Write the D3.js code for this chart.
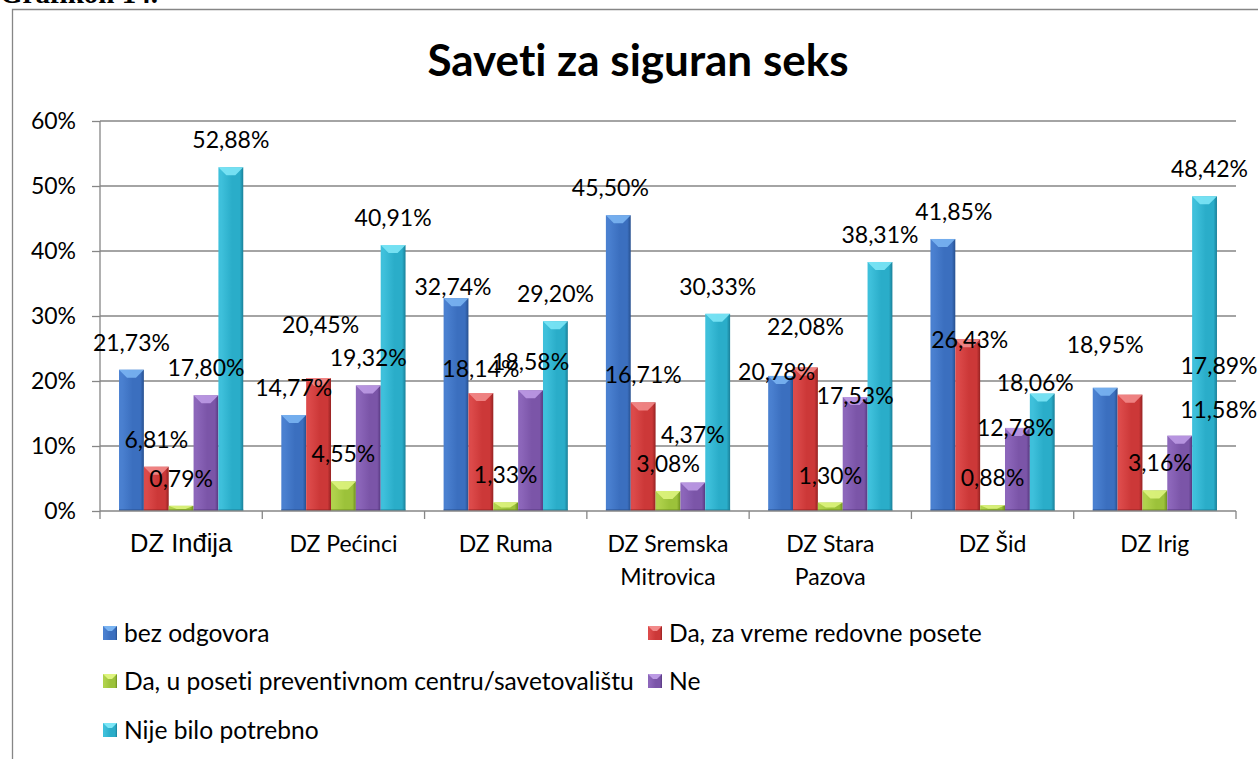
<!DOCTYPE html>
<html>
<head>
<meta charset="utf-8">
<script src="https://cdn.jsdelivr.net/npm/d3@7"></script>
<style>
  html, body { margin: 0; padding: 0; background: #fff; }
  svg { display: block; }
  text { font-variant-ligatures: none; font-feature-settings: "liga" 0; }
</style>
</head>
<body>
<svg id="chart" width="1258" height="759"></svg>
<script>
// ---------------- DATA ----------------
const title = "Saveti za siguran seks";
const pageHeading = "Grafikon 14.";
const categories = ["DZ Inđija", "DZ Pećinci", "DZ Ruma", "DZ Sremska\nMitrovica", "DZ Stara\nPazova", "DZ Šid", "DZ Irig"];
const seriesNames = ["bez odgovora", "Da, za vreme redovne posete", "Da, u poseti preventivnom centru/savetovalištu", "Ne", "Nije bilo potrebno"];
const bezOdgovora   = [21.73, 14.77, 32.74, 45.50, 20.78, 41.85, 18.95];
const daRedovne     = [6.81, 20.45, 18.14, 16.71, 22.08, 26.43, 17.89];
const daPreventivni = [0.79, 4.55, 1.33, 3.08, 1.30, 0.88, 3.16];
const ne            = [17.80, 19.32, 18.58, 4.37, 17.53, 12.78, 11.58];
const nijePotrebno  = [52.88, 40.91, 29.20, 30.33, 38.31, 18.06, 48.42];
const yTicks = [0, 10, 20, 30, 40, 50, 60];

const seriesValues = [bezOdgovora, daRedovne, daPreventivni, ne, nijePotrebno];

// ---------------- LAYOUT / STYLE ----------------
// colours: [left, body, right-edge, top bevel]
const palette = [
  ["#4a80d0", "#3b6fbf", "#27508f", "#7ab4f2"],
  ["#dc4a4a", "#cc3838", "#962222", "#f28a8a"],
  ["#b0d24c", "#9cc23a", "#6d8e1e", "#def47e"],
  ["#8c66ba", "#7b55a8", "#563880", "#bc9ae4"],
  ["#3ec0db", "#2aadc9", "#1a8099", "#7ce6f6"]
];
// manual nudges of the data labels (px) as placed in the original chart
const labelDx = [
  [0, 0, -3, -8, -4, 11, 0],
  [0, 2, 0, 0, 0, 2, 89],
  [0, 0, 0, 0, 0, 0, 5],
  [0, 0, 0, 0, 0, -2, 39],
  [0, 0, 0, 0, 0, -7, 5]
];
const labelDy = [
  [0, 0, 16, 0, 23, 0, -16],
  [0, -26, 3, 0, -13, 28, -2],
  [0, 0, 0, 0, 0, 0, 0],
  [0, 0, -1, -21, 26, 27, 1],
  [0, 0, 0, 0, 0, 16, 0]
];

const plot = { left: 100, right: 1236, top: 121, bottom: 511 };
const font = "Lato, 'Open Sans', sans-serif";
const gridColor = "#868686";

const svg = d3.select("#chart");
const defs = svg.append("defs");

palette.forEach((c, i) => {
  const g = defs.append("linearGradient").attr("id", "grad" + i)
    .attr("x1", "0%").attr("x2", "100%").attr("y1", "0%").attr("y2", "0%");
  g.append("stop").attr("offset", "0%").attr("stop-color", c[0]);
  g.append("stop").attr("offset", "12%").attr("stop-color", c[0]);
  g.append("stop").attr("offset", "55%").attr("stop-color", c[1]);
  g.append("stop").attr("offset", "86%").attr("stop-color", c[1]);
  g.append("stop").attr("offset", "100%").attr("stop-color", c[2]);
});

// page heading (cut off at the top in the original)
svg.append("text")
  .attr("x", 0).attr("y", 3)
  .attr("font-family", "'Liberation Serif', 'Times New Roman', serif")
  .attr("font-weight", "bold").attr("font-size", 29)
  .attr("fill", "#000").text(pageHeading);

// chart frame
svg.append("path")
  .attr("d", "M12.5,759 L12.5,9.5 L1258,9.5")
  .attr("fill", "none").attr("stroke", gridColor).attr("stroke-width", 1.3);

// title
svg.append("text")
  .attr("x", 638).attr("y", 76)
  .attr("text-anchor", "middle")
  .attr("font-family", font).attr("font-weight", "bold").attr("font-size", 44)
  .attr("fill", "#000").text(title);

// scales
const x0 = d3.scaleBand().domain(categories).range([plot.left, plot.right]).paddingInner(0).paddingOuter(0);
const x1 = d3.scaleBand().domain(d3.range(seriesNames.length)).range([0, x0.bandwidth()]).paddingInner(0).paddingOuter(0.766);
const y = d3.scaleLinear().domain([0, 60]).range([plot.bottom, plot.top]);

// gridlines
svg.append("g").selectAll("line").data(yTicks.filter(t => t > 0)).join("line")
  .attr("x1", plot.left).attr("x2", plot.right)
  .attr("y1", d => y(d)).attr("y2", d => y(d))
  .attr("stroke", gridColor).attr("stroke-width", 1.3);

// y axis
const yAxis = d3.axisLeft(y).tickValues(yTicks).tickSize(8).tickPadding(16).tickFormat(d => d + "%");
const gy = svg.append("g").attr("transform", `translate(${plot.left},0)`).call(yAxis);
gy.select(".domain").attr("stroke", gridColor).attr("stroke-width", 1.3).attr("d", `M0,${plot.top}V${plot.bottom}`);
gy.selectAll(".tick line").attr("stroke", gridColor).attr("stroke-width", 1.3);
gy.selectAll(".tick text").attr("font-family", font).attr("font-size", 23).attr("fill", "#000");

// bars
const groups = svg.append("g").selectAll("g").data(categories).join("g")
  .attr("transform", d => `translate(${x0(d)},0)`);

groups.each(function(cat, ci) {
  const g = d3.select(this);
  seriesValues.forEach((vals, si) => {
    const v = vals[ci];
    const bx = x1(si), bw = x1.bandwidth();
    const top = y(v), h = y(0) - y(v);
    g.append("rect")
      .attr("x", bx).attr("y", top).attr("width", bw).attr("height", h)
      .attr("fill", `url(#grad${si})`);
    const d = Math.min(8, h * 0.6);
    g.append("path")
      .attr("d", `M${bx},${top} L${bx + bw},${top} L${bx + bw * 0.68},${top + d} L${bx + bw * 0.32},${top + d} Z`)
      .attr("fill", palette[si][3]).attr("opacity", 0.9);
    g.append("rect")
      .attr("x", bx).attr("y", y(0) - Math.min(2, h)).attr("width", bw).attr("height", Math.min(2, h))
      .attr("fill", palette[si][2]).attr("opacity", 0.5);
  });
});

// x axis
svg.append("line")
  .attr("x1", plot.left).attr("x2", plot.right)
  .attr("y1", plot.bottom).attr("y2", plot.bottom)
  .attr("stroke", gridColor).attr("stroke-width", 1.3);
svg.append("g").selectAll("line").data(d3.range(categories.length + 1)).join("line")
  .attr("x1", i => plot.left + i * x0.bandwidth()).attr("x2", i => plot.left + i * x0.bandwidth())
  .attr("y1", plot.bottom).attr("y2", plot.bottom + 8)
  .attr("stroke", gridColor).attr("stroke-width", 1.3);

// category labels
const catLabels = svg.append("g").selectAll("text").data(categories).join("text")
  .attr("x", d => x0(d) + x0.bandwidth() / 2)
  .attr("y", 552)
  .attr("text-anchor", "middle")
  .attr("font-family", (d, i) => i === 0 ? "'Liberation Sans', Arial, sans-serif" : font)
  .attr("font-size", (d, i) => i === 0 ? 25.5 : 23)
  .attr("fill", "#000");
catLabels.each(function(d) {
  const t = d3.select(this);
  d.split("\n").forEach((line, li) => {
    t.append("tspan").attr("x", x0(d) + x0.bandwidth() / 2).attr("dy", li === 0 ? 0 : 33).text(line);
  });
});

// data labels
const fmt = v => v.toFixed(2).replace(".", ",") + "%";
const labelsG = svg.append("g");
seriesValues.forEach((vals, si) => {
  vals.forEach((v, ci) => {
    labelsG.append("text")
      .attr("x", x0(categories[ci]) + x1(si) + x1.bandwidth() / 2 + labelDx[si][ci])
      .attr("y", y(v) - 19 + labelDy[si][ci])
      .attr("text-anchor", "middle")
      .attr("font-family", font).attr("font-size", 23)
      .attr("fill", "#000")
      .text(fmt(v));
  });
});

// legend
const legendPos = [[103, 633], [648, 633], [103, 681], [648, 681], [103, 730]];
const lg = svg.append("g").selectAll("g").data(seriesNames).join("g")
  .attr("transform", (d, i) => `translate(${legendPos[i][0]},${legendPos[i][1]})`);
lg.append("rect").attr("x", 0).attr("y", -7).attr("width", 14).attr("height", 14)
  .attr("fill", (d, i) => `url(#grad${i})`);
lg.append("path").attr("d", "M0,-7 L14,-7 L9,-2 L5,-2 Z")
  .attr("fill", (d, i) => palette[i][3]);
lg.append("text").attr("x", 21).attr("y", 8.5)
  .attr("font-family", font).attr("font-size", 24.6).attr("fill", "#000")
  .text(d => d);
</script>
</body>
</html>
